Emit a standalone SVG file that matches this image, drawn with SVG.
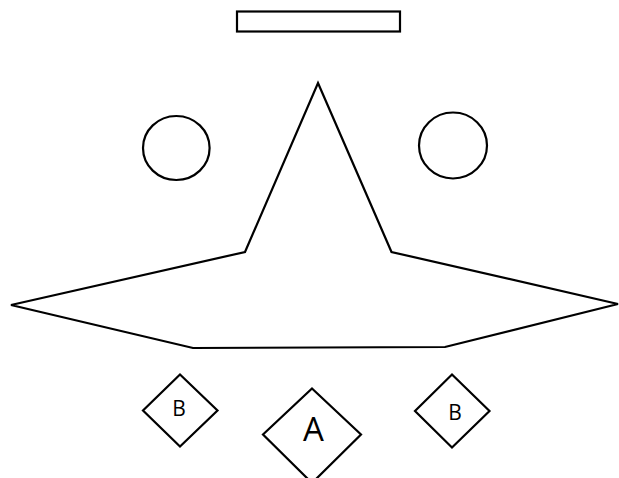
<svg xmlns="http://www.w3.org/2000/svg" width="619" height="478" viewBox="0 0 619 478">
<style>
.s{fill:#fff;stroke:#000;stroke-width:2.2;stroke-linejoin:miter}
.t{font-family:"Open Sans","Liberation Sans",sans-serif;fill:#000;text-anchor:middle}
</style>
<rect width="619" height="478" fill="#fff"/>
<g id="bar"><rect class="s" x="237" y="11.5" width="163" height="20"/></g>
<g id="circleL"><ellipse class="s" cx="176.3" cy="148" rx="33.3" ry="32"/></g>
<g id="circleR"><ellipse class="s" cx="453" cy="145.5" rx="34" ry="33"/></g>
<g id="star"><polygon class="s" points="318,83 391.5,252 618,304 445,347 193,348 11,305 245,252"/></g>
<g id="nodeB1"><polygon class="s" points="180,374.5 217.5,410.5 180,446.5 143,410.5"/><text class="t" x="179" y="415.5" font-size="21">B</text></g>
<g id="nodeA"><polygon class="s" points="312,388.5 361,434.5 312,483 263,434.5"/><text class="t" x="313.5" y="441" font-size="33">A</text></g>
<g id="nodeB2"><polygon class="s" points="452,374.5 489.5,411 452,447.5 415,411"/><text class="t" x="455" y="419.5" font-size="21">B</text></g>
<g id="connectors"></g>
</svg>
